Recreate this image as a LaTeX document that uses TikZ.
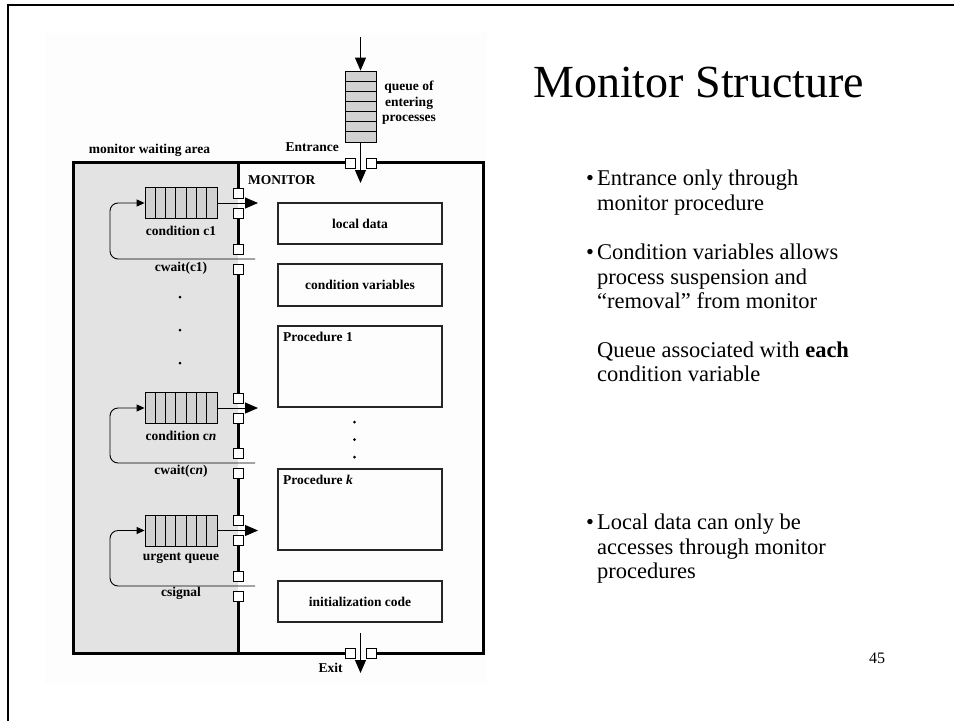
\documentclass[tikz,border=0pt]{standalone}
\usepackage{fontspec}
\setmainfont{Liberation Serif}
\usetikzlibrary{arrows.meta}
\definecolor{areagray}{gray}{0.89}
\definecolor{cellgray}{gray}{0.82}
\definecolor{boxline}{gray}{0.15}
\definecolor{paper}{gray}{0.993}
\begin{document}
\begin{tikzpicture}[x=1pt,y=-1pt,
  lbl/.style={font=\bfseries\fontsize{13.5}{15.5}\selectfont, inner sep=0pt},
  door/.style={draw, fill=white, line width=0.9pt, minimum size=10pt, inner sep=0pt},
  wall/.style={line width=3pt},
  datbox/.style={draw=boxline, line width=2pt, minimum width=164pt, inner sep=0pt},
  bigarrow/.style={line width=1pt, -{Triangle[length=13pt,width=11pt]}},
  looparrow/.style={line width=0.9pt, rounded corners=8pt, -{Triangle[length=8pt,width=7pt]}},
  body/.style={font=\fontsize{22.5}{24.5}\selectfont, inner sep=0pt, anchor=base west},
  hq/.pic={
    \node[draw, fill=cellgray, line width=0.8pt, minimum width=72pt, minimum height=31pt, inner sep=0pt] (-box) {};
    \foreach \i in {1,...,6}
      \draw[line width=0.8pt] (-36+\i*72/7,-15.5) -- (-36+\i*72/7,15.5);
  },
  vq/.pic={
    \node[draw, fill=cellgray, line width=0.8pt, minimum width=31pt, minimum height=71pt, inner sep=0pt] (-box) {};
    \foreach \i in {1,...,6}
      \draw[line width=0.8pt] (-15.5,-35.5+\i*71/7) -- (15.5,-35.5+\i*71/7);
  }
]
\useasboundingbox (0,0) rectangle (954,721);

% slide frame
\draw[line width=2.5pt] (8,721) -- (8,5) -- (954,5);

% figure paper
\fill[paper] (45,33) rectangle (487,683);

% monitor waiting area
\fill[areagray] (73,162) rectangle (238,653);

% outer walls with entrance and exit gaps
\draw[wall, line join=miter] (355,162) -- (73,162) -- (73,653) -- (355,653);
\draw[wall, line join=miter] (366,162) -- (483,162) -- (483,653) -- (366,653);

% inner wall between waiting area and monitor, broken at each door pair
\draw[wall] (238,162) -- (238,198)  (238,208) -- (238,254)
            (238,264) -- (238,403)  (238,413) -- (238,458)
            (238,468) -- (238,525.5) (238,535.5) -- (238,581)
            (238,591) -- (238,653);

% door markers on the inner wall
\foreach \y [count=\k] in {203,259,408,463,530.5,586} {
  \node[door] (dA\k) at (238,\y-10) {};
  \node[door] (dB\k) at (238,\y+10) {};
}
% entrance and exit door markers
\node[door] (en1) at (350,163) {};
\node[door] (en2) at (371,163) {};
\node[door] (ex1) at (350,653) {};
\node[door] (ex2) at (371,653) {};

% queue of entering processes
\pic (eq) at (360.5,106.5) {vq};
\coordinate (entsrc) at (360.5,37);
\coordinate (enttip) at (360.5,183);
\draw[bigarrow] (entsrc) -- (eq-box.north);
\draw[bigarrow] (eq-box.south) -- (enttip);
\node[lbl, align=center] (eqlbl) at (409,103) {queue of\\entering\\processes};
\node[lbl, anchor=east] (entlbl) at (339,147) {Entrance};

% exit
\coordinate (exsrc) at (360.5,633);
\coordinate (extip) at (360.5,673);
\draw[bigarrow] (exsrc) -- (extip);
\node[lbl] (exlbl) at (330.5,668) {Exit};

\node[lbl] (wa) at (149.5,150) {monitor waiting area};
\node[lbl, anchor=west] (mon) at (248,180) {MONITOR};

% condition queues
\pic (q1) at (181,203) {hq};
\pic (qn) at (181,408) {hq};
\pic (qu) at (181,530.5) {hq};

\coordinate (t1) at (258,203);
\coordinate (tn) at (258,408);
\coordinate (tu) at (258,530.5);
\draw[bigarrow] (q1-box.east) -- (t1);
\draw[bigarrow] (qn-box.east) -- (tn);
\draw[bigarrow] (qu-box.east) -- (tu);

\coordinate (w1) at (255,259);
\coordinate (wn) at (255,463);
\coordinate (wu) at (255,586);
\draw[looparrow] (w1) -- (110,259) |- (q1-box.west);
\draw[looparrow] (wn) -- (110,463) |- (qn-box.west);
\draw[looparrow] (wu) -- (110,586) |- (qu-box.west);

\node[lbl] (c1lbl) at (181,231) {condition c1};
\node[lbl] (cw1) at (181,268) {cwait(c1)};
\node[lbl] (cnlbl) at (181,436) {condition c\textit{n}};
\node[lbl] (cwn) at (181,471) {cwait(c\textit{n})};
\node[lbl] (urg) at (181,558) {urgent queue};
\node[lbl] (csig) at (181,593) {csignal};

% vertical ellipsis in the waiting area
\foreach \y in {297,330,363} \fill (180,\y) circle (1.5pt);

% monitor contents
\node[datbox, minimum height=41pt] (ld) at (360,223.5) {};
\node[lbl] at (ld) {local data};
\node[datbox, minimum height=42pt] (cv) at (360,285) {};
\node[lbl] at (cv) {condition variables};
\node[datbox, minimum height=81pt] (p1) at (360,366.5) {};
\node[lbl, anchor=west] (p1lbl) at (283,337) {Procedure 1};
\node[datbox, minimum height=81pt] (pk) at (360,509.5) {};
\node[lbl, anchor=west] (pklbl) at (283,480) {Procedure \textit{k}};
\node[datbox, minimum height=41pt] (ic) at (360,601.5) {};
\node[lbl] at (ic) {initialization code};
\foreach \y in {422,439.5,457} \fill (354.5,\y) circle (1.5pt);

% slide text
\node[anchor=base west, font=\fontsize{46}{50}\selectfont, inner sep=0pt] (title) at (533,97) {Monitor Structure};

\node[body] (bu1) at (586,185) {\textbullet};
\node[body] (l1) at (597,185) {Entrance only through};
\node[body] (l2) at (597,210) {monitor procedure};

\node[body] (bu2) at (586,259) {\textbullet};
\node[body] (l3) at (597,259) {Condition variables allows};
\node[body] (l4) at (597,284) {process suspension and};
\node[body] (l5) at (597,308) {“removal” from monitor};

\node[body] (l6) at (597,357) {Queue associated with \textbf{each}};
\node[body] (l7) at (597,381) {condition variable};

\node[body] (bu3) at (586,529) {\textbullet};
\node[body] (l8) at (597,529) {Local data can only be};
\node[body] (l9) at (597,554) {accesses through monitor};
\node[body] (l10) at (597,578) {procedures};

\node[anchor=base west, font=\fontsize{16}{18}\selectfont, inner sep=0pt] (pg) at (869,663) {45};
\end{tikzpicture}
\end{document}
